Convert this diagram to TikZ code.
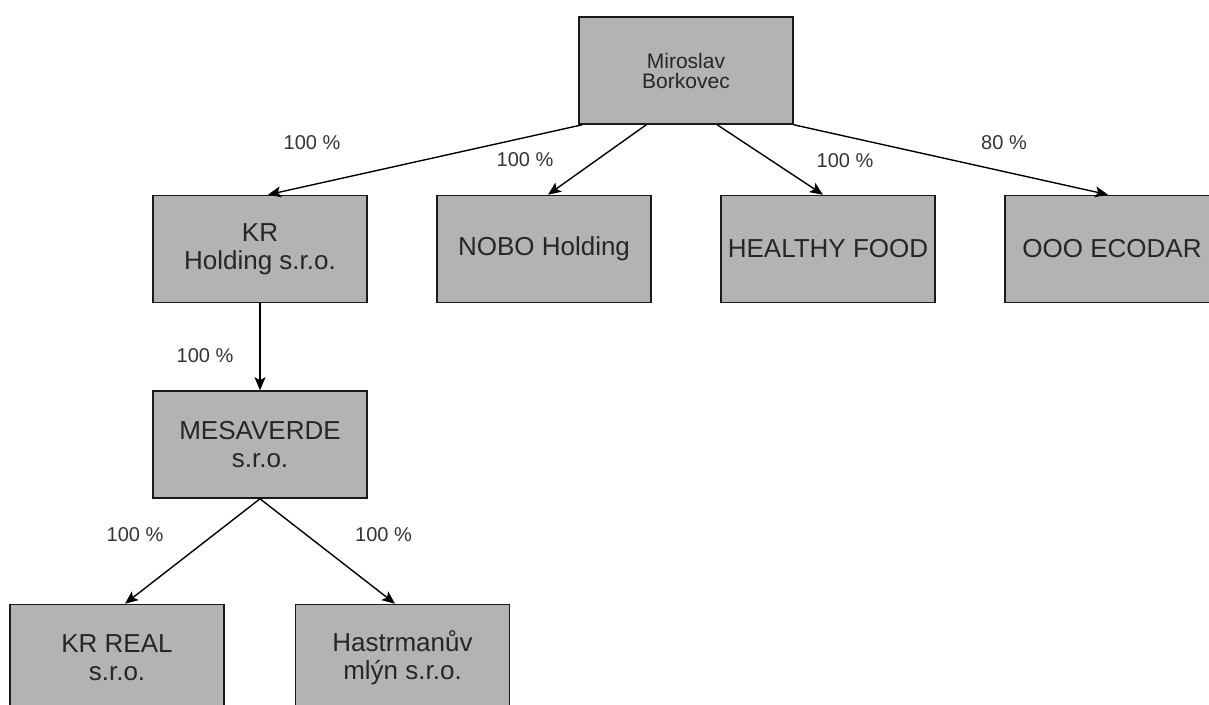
\documentclass[tikz,border=0pt]{standalone}
\usepackage{fontspec}
\setmainfont{Liberation Sans}
\usetikzlibrary{arrows.meta}
\definecolor{boxfill}{HTML}{B3B3B3}
\definecolor{boxline}{HTML}{1A1A1A}
\definecolor{txt}{HTML}{262626}
\definecolor{lbl}{HTML}{333333}
\tikzset{
  company/.style={draw=boxline, line width=1.6pt, fill=boxfill, rectangle,
    minimum width=214pt, minimum height=107pt, inner sep=0pt, align=center,
    text=txt, font=\fontsize{26}{28}\selectfont},
  owner/.style={company, font=\fontsize{21}{20}\selectfont},
  share/.style={text=lbl, font=\fontsize{20}{24}\selectfont, inner sep=0pt},
  link/.style={draw=black, line width=1.4pt,
    -{Stealth[length=13pt,width=11pt,inset=3pt]}}
}
\begin{document}
\begin{tikzpicture}[x=1pt,y=-1pt]
\useasboundingbox (0,0) rectangle (1209,704);
\begin{scope}
\clip (0,0) rectangle (1209,704);
\node[owner]   (top)  at (686,70.5) {Miroslav\\Borkovec};
\node[company] (kr)   at (260,249) {KR\\Holding s.r.o.};
\node[company] (nobo) at (544,249) {NOBO Holding};
\node[company] (hf)   at (828,249) {HEALTHY FOOD};
\node[company] (eco)  at (1112,249) {OOO ECODAR};
\node[company] (mesa) at (260,444.5) {MESAVERDE\\s.r.o.};
\node[company] (real) at (117,658) {KR REAL\\s.r.o.};
\node[company] (hast) at (402.5,658) {Hastrmanův\\mlýn s.r.o.};

\coordinate (t1) at ([xshift=4pt]top.south west);
\coordinate (t2) at ([xshift=68pt]top.south west);
\coordinate (t3) at ([xshift=139pt]top.south west);
\coordinate (t4) at (top.south east);
\coordinate (e1) at ([xshift=8pt]kr.north);
\coordinate (e2) at ([xshift=4pt]nobo.north);
\coordinate (e3) at ([xshift=-5pt]hf.north);
\coordinate (e4) at ([xshift=-4pt]eco.north);
\coordinate (e5) at ([xshift=8pt]real.north);
\coordinate (e6) at ([xshift=-7.5pt]hast.north);

\draw[link] (t1) -- (e1);
\draw[link] (t2) -- (e2);
\draw[link] (t3) -- (e3);
\draw[link] (t4) -- (e4);
\draw[link] (kr.south) -- (mesa.north);
\draw[link] (mesa.south) -- (e5);
\draw[link] (mesa.south) -- (e6);

\node[share] (l1) at (312,143) {100 \%};
\node[share] (l2) at (525,160) {100 \%};
\node[share] (l3) at (845,161) {100 \%};
\node[share] (l4) at (1004,143) {80 \%};
\node[share] (l5) at (205,356) {100 \%};
\node[share] (l6) at (135,535) {100 \%};
\node[share] (l7) at (383.5,535) {100 \%};
\end{scope}
\end{tikzpicture}
\end{document}
